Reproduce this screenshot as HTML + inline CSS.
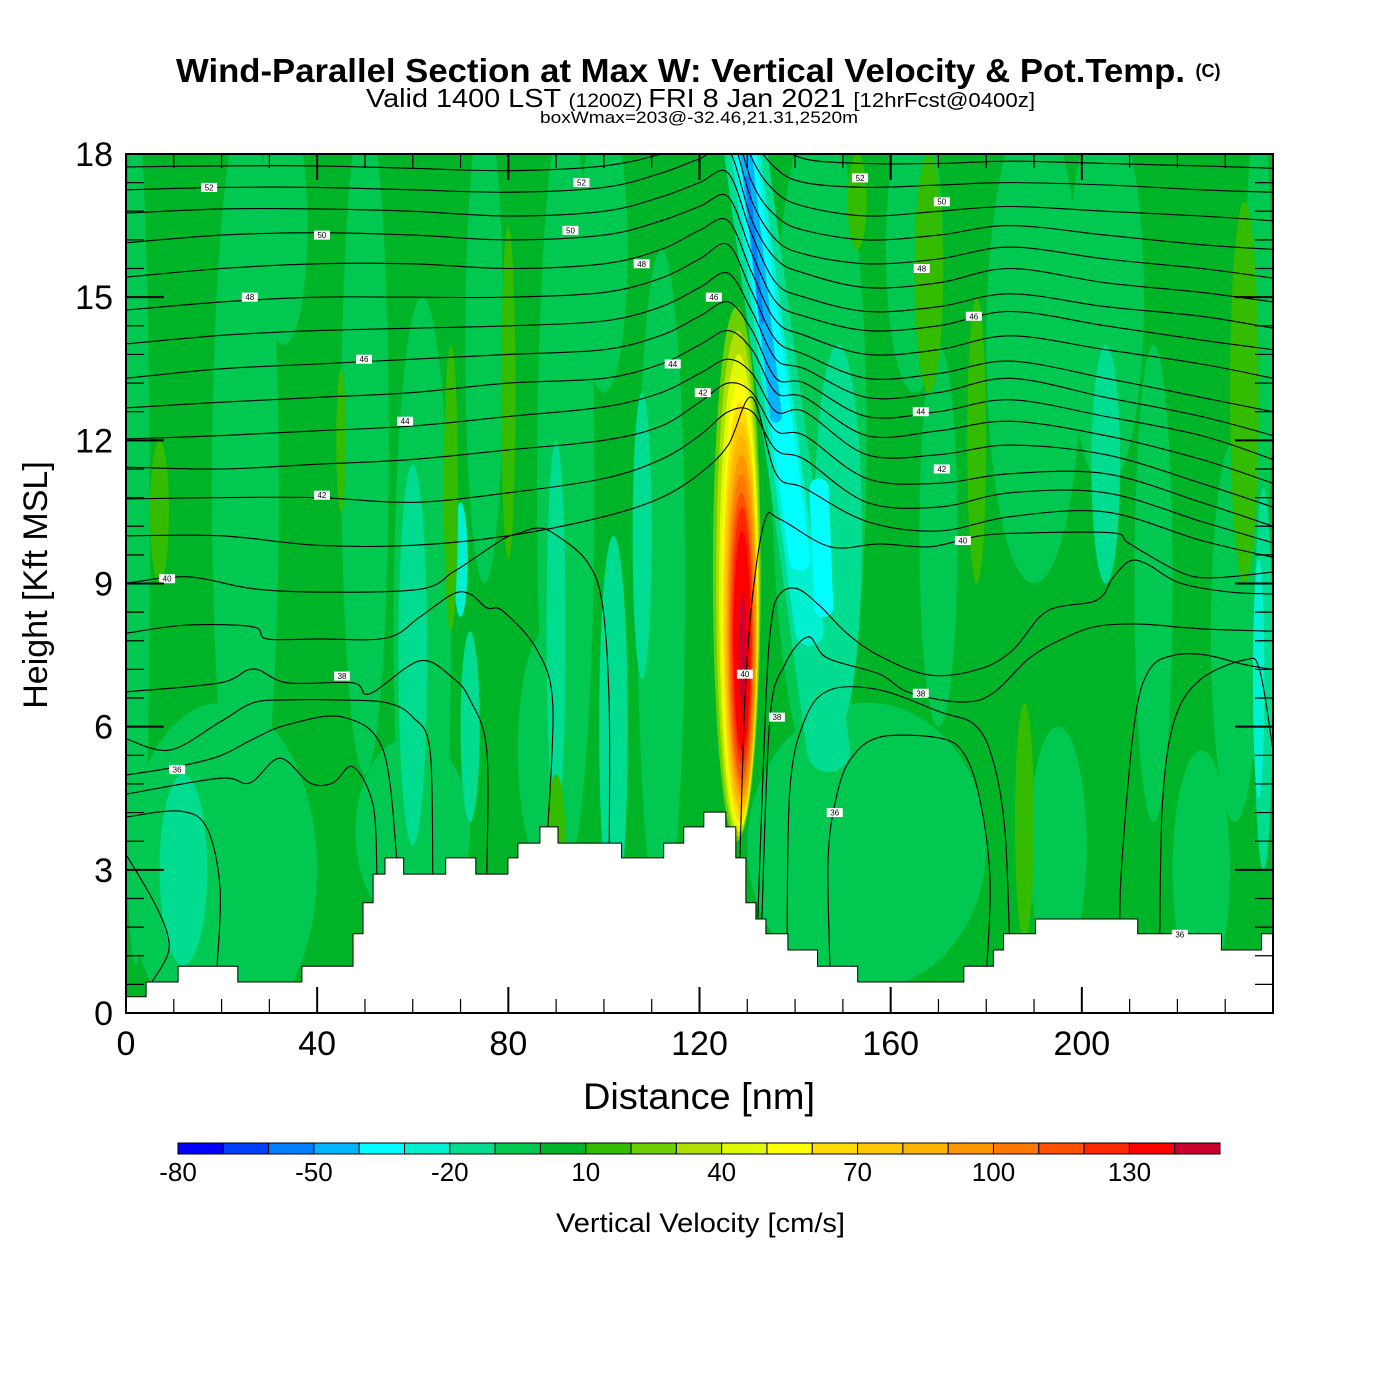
<!DOCTYPE html>
<html><head><meta charset="utf-8"><title>Wind-Parallel Section</title>
<style>
html,body{margin:0;padding:0;background:#fff;}
body{width:1400px;height:1400px;overflow:hidden;font-family:"Liberation Sans",sans-serif;}
svg{display:block;}
</style></head>
<body>
<svg id="chart" width="1400" height="1400" viewBox="0 0 1400 1400" xmlns="http://www.w3.org/2000/svg" font-family="Liberation Sans, sans-serif">
  <defs><clipPath id="plotclip"><rect x="126" y="154" width="1147" height="859"/></clipPath></defs>
  <g>
    <text x="176" y="82" font-size="33" font-weight="bold" textLength="1009" lengthAdjust="spacingAndGlyphs">Wind-Parallel Section at Max W: Vertical Velocity &amp; Pot.Temp.</text>
    <text x="1208" y="77" text-anchor="middle" font-size="18" font-weight="bold">(C)</text>
    <text x="366" y="107" textLength="669" lengthAdjust="spacingAndGlyphs"><tspan font-size="26">Valid 1400 LST </tspan><tspan font-size="19">(1200Z) </tspan><tspan font-size="26">FRI 8 Jan 2021 </tspan><tspan font-size="20">[12hrFcst@0400z]</tspan></text>
    <text x="540" y="123" font-size="17" textLength="318" lengthAdjust="spacingAndGlyphs">boxWmax=203@-32.46,21.31,2520m</text>
  </g>
  <g id="field" clip-path="url(#plotclip)"></g>
  <g id="contours" clip-path="url(#plotclip)" fill="none" stroke="#000" stroke-width="1.1"></g>
  <g id="terrain" clip-path="url(#plotclip)"></g>
  <g id="clabels" clip-path="url(#plotclip)"></g>
  <g id="axes"></g>
  <g id="cbar"></g>
  <text x="583" y="1109" font-size="37" textLength="232" lengthAdjust="spacingAndGlyphs">Distance [nm]</text>
  <text x="0" y="0" transform="translate(47,585) rotate(-90)" text-anchor="middle" font-size="34">Height [Kft MSL]</text>
  <text x="556" y="1232" font-size="27" textLength="289" lengthAdjust="spacingAndGlyphs">Vertical Velocity [cm/s]</text>
</svg>
<script>
// ---------- data ----------
const xTicks = [0, 40, 80, 120, 160, 200];
const yTicks = [0, 3, 6, 9, 12, 15, 18];
const cbarBins = [-80,-70,-60,-50,-40,-30,-20,-10,0,10,20,30,40,50,60,70,80,90,100,110,120,130,140];
const cbarColors = ["#0000ff","#0040ff","#0080ff","#00b4ff","#00ffff","#00f0d0","#00dc90","#00c850","#00b428","#33bc00","#6cd000","#b0e000","#e0f800","#ffff00","#ffdc00","#ffc800","#ffb400","#ff9600","#ff7800","#ff5000","#ff2800","#ff0000","#cc0030"];
const cbarLabels = [-80, -50, -20, 10, 40, 70, 100, 130];

// background velocity blobs: [x nm, height kft, rx nm, ry kft]
const blobsWeakDown = [[2,10,3,9],[25,11,7,8],[33,16.5,5,2.5],[50,12,5,7],[62,8,6,7],[75,14,4,5],[92,11,6,8],[100,16,5,3],[112,9,5,7],[20,3,20,3.5],[60,3.8,12,2],[88,5.5,6,2.5],[145,12,10,7],[165,16,6,3],[190,14,10,5],[155,3.5,25,3],[205,15,8,4],[215,9,4,5],[232,8,5,4],[237,14,3,5],[195,3.5,6,2.5],[225,3,6,2.5],[170,10,4,4]];
const blobsModDown = [[12,3,5,2],[60,7.5,3,4],[72,6,2,2],[102,6,3,4],[90,8,2,4],[108,10,2,3],[149,10,5,4],[205,11.5,3,2.5],[238,7,2,4]];
const blobsStrDown = [[70,9.5,1.5,1.2],[237,7,1.2,2.5]];
const blobsWeakUp = [[7,10.5,2,1.5],[45,12,1,1.5],[68,11,1.5,3],[80,13,1.5,3.5],[168,15.5,3,2.5],[178,12,2,3],[188,4,2,2.5],[234,13,3,4],[90,3.5,2,1.5],[153,17,2,1]];
const blobValues = [-5, -15, -25, 15];
// updraft core layers
const updraftVals = [20,30,40,50,60,70,80,90,100,110,120,130,140];
const updraftCx = [127.8,128.0,128.2,128.4,128.5,128.6,128.7,128.8,128.8,128.8,128.9,128.9,129.0];
const updraftCy = [9.2,9.0,8.8,8.6,8.4,8.3,8.2,8.1,8.0,7.9,7.9,7.8,7.6];
const updraftRx = [5.0,4.5,4.1,3.8,3.6,3.4,3.2,3.0,2.7,2.4,2.1,1.8,0.8];
const updraftRy = [5.6,5.3,5.0,4.7,4.4,4.1,3.9,3.6,3.3,3.0,2.7,2.3,1.2];
// downdraft bands: x1,h1,x2,h2,width nm
const downVals = [-20,-30,-40,-40,-50,-60];
const downSeg = [[129,18.5,147,5.5,9],[129,18.5,143,8,6],[129,18.5,141,9.5,4.5],[145,11,146,8.5,4],[129.5,18.2,136,12.5,2.5],[130,17.5,133,14.5,1.0]];

// potential temperature contours at fixed distances
const contourX = [0,20,40,60,80,100,112,120,126,131,136,142,155,170,185,205,225,240];
const thetaLines = [
 [19.6,19.6,19.6,19.6,19.6,19.7,19.9,20,20.2,19.2,18.3,17.9,17.8,17.8,17.85,17.8,17.75,17.7],
 [19.1,19.1,19.1,19.1,19.1,19.2,19.4,19.6,19.8,18.4,17.7,17.4,17.3,17.35,17.4,17.35,17.25,17.2],
 [18.6,18.6,18.6,18.6,18.6,18.7,18.9,19.1,19.3,17.9,17.2,16.9,16.7,16.8,16.9,16.8,16.7,16.6],
 [18.2,18.2,18.2,18.2,18.2,18.3,18.5,18.7,18.9,17.4,16.7,16.4,16.2,16.3,16.5,16.3,16.1,16.0],
 [17.73,17.75,17.75,17.7,17.65,17.75,18.0,18.3,18.5,17.0,16.2,15.9,15.7,15.8,16.05,15.8,15.6,15.4],
 [17.25,17.3,17.3,17.25,17.2,17.3,17.6,17.9,18.1,16.6,15.8,15.5,15.2,15.3,15.6,15.3,15.1,14.9],
 [16.76,16.85,16.85,16.8,16.7,16.8,17.1,17.4,17.6,16.3,15.3,15.0,14.7,14.8,15.07,14.8,14.6,14.35],
 [16.14,16.3,16.35,16.3,16.2,16.3,16.6,16.9,17.1,15.9,14.9,14.6,14.3,14.4,14.7,14.4,14.1,13.9],
 [15.42,15.6,15.7,15.7,15.6,15.7,16.0,16.4,16.6,15.5,14.5,14.2,13.8,13.9,14.19,13.9,13.6,13.3],
 [14.73,14.9,15.0,15.0,15.0,15.1,15.4,15.8,16.1,15.1,14.1,13.8,13.3,13.4,13.66,13.3,12.9,12.6],
 [14.02,14.2,14.3,14.35,14.4,14.5,14.8,15.2,15.5,14.7,13.7,13.5,12.9,13.0,13.3,12.9,12.5,12.1],
 [13.30,13.5,13.6,13.7,13.8,13.9,14.2,14.6,14.9,14.3,13.3,13.2,12.5,12.6,12.85,12.5,12.1,11.6],
 [12.68,12.8,12.9,13.0,13.2,13.3,13.6,14.0,14.3,13.9,13.0,12.9,12.1,12.2,12.4,12.1,11.6,11.1],
 [12.03,12.1,12.2,12.3,12.5,12.7,13.0,13.4,13.7,13.4,12.6,12.6,11.7,11.7,11.9,11.7,11.1,10.6],
 [11.44,11.4,11.5,11.6,11.8,12.0,12.3,12.8,13.2,13.0,12.2,12.1,11.2,11.1,11.3,11.3,10.7,10.2],
 [10.77,10.8,10.8,10.7,10.9,11.2,11.6,12.1,12.6,12.6,11.8,11.6,10.7,10.6,10.9,10.9,10.3,9.85],
 [10.0,10.0,9.8,9.8,10.0,10.4,10.8,11.3,11.9,12.9,11.3,11.0,10.3,10.1,10.4,10.5,9.9,9.55]
];
// free-form contour segments: alternating distance nm, height kft
const contourFree = [
 [0.2,9.01,12.8,9.14,26.6,8.89,40.6,8.82,61.5,8.88,68.4,9.24,72.0,9.47,78.9,9.93,82.4,10.06,86.0,10.16,89.3,10.06,96.4,9.47,99.7,8.55,101.1,6.43,101.1,3.4],
 [0.2,7.96,12.8,8.13,26.6,8.09,29.5,7.84,40.6,7.84,54.6,7.86,61.5,8.30,68.4,8.78,72.0,8.78,75.5,8.49,78.9,8.42,86.0,7.61,89.3,6.45,88.1,3.6],
 [0.2,6.73,19.7,6.92,26.6,7.21,33.7,6.92,47.5,6.92,51.0,6.69,61.5,7.38,68.4,7.02,72.0,6.56,75.5,5.51,75.5,2.9],
 [0.2,5.74,9.2,5.51,19.7,6.10,26.6,6.50,33.7,6.56,44.1,6.56,54.6,6.50,60.0,6.20,63.6,5.51,64.2,2.9],
 [0.2,4.99,10.7,5.16,19.7,5.39,26.6,5.74,33.7,6.04,45.4,6.20,53.8,5.51,56.7,3.2],
 [0.2,4.59,19.7,4.92,25.9,4.82,32.2,5.34,38.5,4.82,43.3,4.82,47.5,5.16,51.7,4.36,52.5,2.9],
 [0.2,4.11,11.3,4.23,16.9,3.88,19.7,2.60,19.0,0.9],
 [0.2,3.29,5.6,2.37,8.6,1.68,8.6,1.19,4.4,0.5],
 [128.4,3.0,129.5,6.56,131.0,8.65,133.7,10.33,136.8,10.35,147.3,9.77,157.7,9.83,168.2,9.77,178.7,10.0,189.1,10.06,206.5,10.06,210.0,9.83,220.5,9.24,227.4,9.12,240,9.24],
 [132.2,2.0,133.9,6.56,135.1,8.24,136.8,8.78,140.4,8.89,145.2,8.53,150.8,7.96,157.7,7.48,168.2,7.08,178.7,7.21,185.6,7.61,192.7,8.42,203.1,8.65,206.5,9.12,210.0,9.47,213.6,9.41,220.5,9.01,231.0,8.82,240,8.78],
 [133.0,1.8,134.7,6.14,137.8,7.29,142.7,7.88,146.7,7.44,157.7,7.10,164.6,6.69,178.7,6.56,189.1,7.44,196.0,7.84,203.1,8.1,212,8.15,225,8.05,240,8.0],
 [138.3,1.2,138.9,4.67,142.0,6.14,147.3,6.77,157.7,6.77,170.3,6.31,177.6,6.04,181.4,5.30,183.9,3.83,184.9,1.4],
 [147.3,0.9,146.9,3.21,148.5,4.46,151.5,5.30,157.7,5.78,170.3,5.76,175.5,5.41,178.7,4.46,180.8,2.79,180.1,0.9],
 [207.9,1.8,208.4,3.2,211.1,6.14,214.2,7.2,219.4,7.5,226,7.5,234,7.3,240,7.2],
 [216.3,1.5,216.9,4.46,219.4,6.14,224.7,6.98,234.1,7.40,237.2,7.19,240,5.51]
];
const labelX = [17.4,41,25.9,49.8,58.4,41,8.6,45.2,10.7,95.3,93,107.9,123,114.4,120.7,153.6,170.7,166.5,177.4,166.3,170.7,175.1,166.3,129.5,136.2,148.3,220.5];
const labelH = [17.3,16.3,15.0,13.7,12.4,10.85,9.1,7.06,5.1,17.4,16.4,15.7,15.0,13.6,13.0,17.5,17.0,15.6,14.6,12.6,11.4,9.9,6.7,7.1,6.2,4.2,1.65];
const labelText = ["52","50","48","46","44","42","40","38","36","52","50","48","46","44","42","52","50","48","46","44","42","40","38","40","38","36","36"];
// terrain steps: start distance nm, height kft
const terrainX = [0,4.2,10.9,23.4,36.8,47.5,49.6,51.7,54.2,58.1,66.9,73.2,79.9,82,86.6,90.4,103.7,112.5,116.7,120.9,125.5,127.6,129.7,131.8,133.9,138.5,144.7,153.1,175.3,181.5,183.6,190.3,211.7,229.2,237.6];
const terrainH = [0.34,0.65,0.98,0.65,0.98,1.66,2.31,2.91,3.25,2.91,3.25,2.91,3.25,3.56,3.9,3.56,3.25,3.56,3.9,4.21,3.9,3.25,2.31,1.97,1.66,1.32,0.98,0.65,0.98,1.32,1.66,1.97,1.66,1.32,1.66];

// ---------- scales ----------
const X0=126, X1=1273, Y0=1013, Y1=154, XMAX=240, YMAX=18;
function sx(v){return X0+v*(X1-X0)/XMAX;}
function sy(v){return Y0-v*(Y0-Y1)/YMAX;}
const pxPerNm=(X1-X0)/XMAX, pxPerK=(Y0-Y1)/YMAX;
function colorOf(v){let i=Math.floor((v+80)/10);i=Math.max(0,Math.min(cbarColors.length-1,i));return cbarColors[i];}
const NS="http://www.w3.org/2000/svg";
function mk(tag,attrs,parent){const e=document.createElementNS(NS,tag);for(const k in attrs)e.setAttribute(k,attrs[k]);parent.appendChild(e);return e;}

// ---------- field ----------
const field=document.getElementById('field');
const bg=mk('rect',{x:X0,y:Y1,width:X1-X0,height:Y0-Y1,fill:colorOf(5)},field);


[blobsWeakDown,blobsModDown,blobsStrDown,blobsWeakUp].forEach((set,si)=>{
  set.forEach(b=>{
    const e=mk('ellipse',{cx:sx(b[0]),cy:sy(b[1]),rx:b[2]*pxPerNm,ry:b[3]*pxPerK,fill:colorOf(blobValues[si])},field);
    
    
  });
});
downSeg.forEach((s,i)=>{
  const l=mk('line',{x1:sx(s[0]),y1:sy(s[1]),x2:sx(s[2]),y2:sy(s[3]),stroke:colorOf(downVals[i]),'stroke-width':s[4]*pxPerNm,'stroke-linecap':'round'},field);
  
  
});
updraftVals.forEach((v,i)=>{
  const e=mk('ellipse',{cx:sx(updraftCx[i]),cy:sy(updraftCy[i]),rx:updraftRx[i]*pxPerNm,ry:updraftRy[i]*pxPerK,fill:colorOf(v)},field);
  
  
});

// ---------- contours ----------
function crPath(pts){
  let d='M'+pts[0][0].toFixed(1)+','+pts[0][1].toFixed(1);
  for(let i=0;i<pts.length-1;i++){
    const p0=pts[i-1]||pts[i],p1=pts[i],p2=pts[i+1],p3=pts[i+2]||p2;
    const c1=[p1[0]+(p2[0]-p0[0])/6,p1[1]+(p2[1]-p0[1])/6];
    const c2=[p2[0]-(p3[0]-p1[0])/6,p2[1]-(p3[1]-p1[1])/6];
    d+='C'+c1[0].toFixed(1)+','+c1[1].toFixed(1)+' '+c2[0].toFixed(1)+','+c2[1].toFixed(1)+' '+p2[0].toFixed(1)+','+p2[1].toFixed(1);
  }
  return d;
}
const cg=document.getElementById('contours');
thetaLines.forEach(line=>{
  const pts=line.map((h,i)=>[sx(contourX[i]),sy(h)]);
  const p=mk('path',{d:crPath(pts)},cg);
  
  
});
contourFree.forEach(arr=>{
  const pts=[];for(let i=0;i<arr.length;i+=2)pts.push([sx(arr[i]),sy(arr[i+1])]);
  const p=mk('path',{d:crPath(pts)},cg);
  
  
});

// ---------- terrain ----------
const tg=document.getElementById('terrain');
let td='M'+sx(0)+','+sy(0);
terrainX.forEach((x,i)=>{
  const xe=i<terrainX.length-1?terrainX[i+1]:XMAX;
  td+='L'+sx(x).toFixed(1)+','+sy(terrainH[i]).toFixed(1)+'L'+sx(xe).toFixed(1)+','+sy(terrainH[i]).toFixed(1);
});
td+='L'+sx(XMAX)+','+sy(0)+'Z';
const tp=mk('path',{d:td,fill:'#fff',stroke:'#000','stroke-width':1},tg);



// ---------- contour labels ----------
const lg=document.getElementById('clabels');
labelText.forEach((t,i)=>{
  const g=mk('g',{},lg);
  
  
  mk('rect',{x:sx(labelX[i])-8,y:sy(labelH[i])-4.5,width:16,height:9,fill:'#fff'},g);
  const tx=mk('text',{x:sx(labelX[i]),y:sy(labelH[i])+3,'text-anchor':'middle','font-size':8},g);
  tx.textContent=t;
});

// ---------- axes ----------
const ag=document.getElementById('axes');
const frame=mk('rect',{x:X0,y:Y1,width:X1-X0,height:Y0-Y1,fill:'none',stroke:'#000','stroke-width':2},ag);


for(let v=10;v<XMAX;v+=10){
  const major=v%40===0, L=major?26:14, x=sx(v);
  const t1=mk('line',{x1:x,y1:Y0,x2:x,y2:Y0-L,stroke:'#000','stroke-width':major?2:1.2},ag);
  
  
  const t2=mk('line',{x1:x,y1:Y1,x2:x,y2:Y1+L,stroke:'#000','stroke-width':major?2:1.2},ag);
  
  
}
for(let k=1;k<30;k++){
  const v=k*0.6, major=k%5===0, L=major?38:18, y=sy(v);
  const t1=mk('line',{x1:X0,y1:y,x2:X0+L,y2:y,stroke:'#000','stroke-width':major?2:1.2},ag);
  
  
  const t2=mk('line',{x1:X1,y1:y,x2:X1-L,y2:y,stroke:'#000','stroke-width':major?2:1.2},ag);
  
  
}
xTicks.forEach(v=>{
  const t=mk('text',{x:sx(v),y:1055,'text-anchor':'middle','font-size':34},ag);
  
  
  t.textContent=v;
});
yTicks.forEach(v=>{
  const t=mk('text',{x:113,y:sy(v)+12,'text-anchor':'end','font-size':34},ag);
  
  
  t.textContent=v;
});

// ---------- colorbar ----------
const cb=document.getElementById('cbar');
const CB0=178, CBW=(1220-178)/cbarBins.length;
cbarBins.forEach((v,i)=>{
  const r=mk('rect',{x:CB0+i*CBW,y:1143,width:CBW,height:11,fill:cbarColors[i],stroke:'#000','stroke-width':1},cb);
  
  
});
cbarLabels.forEach(v=>{
  const t=mk('text',{x:CB0+(v+80)/10*CBW,y:1181,'text-anchor':'middle','font-size':26},cb);
  
  
  t.textContent=v;
});
</script>
</body></html>
